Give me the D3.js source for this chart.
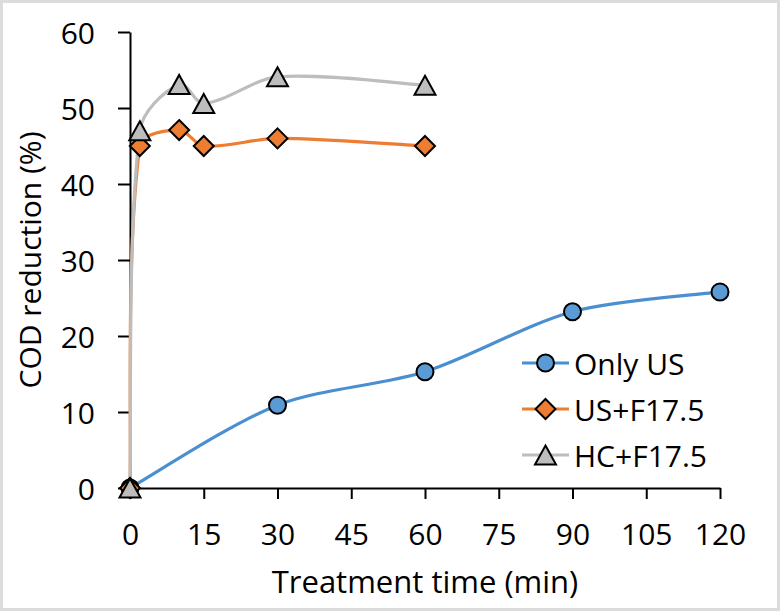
<!DOCTYPE html>
<html>
<head>
<meta charset="utf-8">
<script src="https://cdn.jsdelivr.net/npm/d3@7"></script>
<style>
  html, body { margin: 0; padding: 0; background: #fff; }
  svg { display: block; }
  text { font-family: "Open Sans", Lato, sans-serif; fill: #000; }
</style>
</head>
<body>
<svg id="chart" width="780" height="611"></svg>
<script>
// ---- data ----
const seriesNames = ["Only US", "US+F17.5", "HC+F17.5"];
const timeOnlyUS = [0, 30, 60, 90, 120];
const valOnlyUS = [0, 10.9, 15.3, 23.2, 25.8];
const timeUSF = [0, 2, 10, 15, 30, 60];
const valUSF = [0, 45.0, 47.1, 45.0, 46.0, 45.0];
const timeHCF = [0, 2, 10, 15, 30, 60];
const valHCF = [0, 47.0, 53.1, 50.6, 54.1, 53.0];
const xTicks = [0, 15, 30, 45, 60, 75, 90, 105, 120];
const yTicks = [0, 10, 20, 30, 40, 50, 60];
const xTitle = "Treatment time (min)";
const yTitle = "COD reduction (%)";

const markerFill = ["#5B9BD5", "#ED7D31", "#BDBDBD"];
const lineColors = ["#4A8FD0", "#ED7D31", "#BDBDBD"];
const shapes = ["circle", "diamond", "triangle"];

const series = [
  { name: seriesNames[0], pts: timeOnlyUS.map((t, i) => [t, valOnlyUS[i]]) },
  { name: seriesNames[1], pts: timeUSF.map((t, i) => [t, valUSF[i]]) },
  { name: seriesNames[2], pts: timeHCF.map((t, i) => [t, valHCF[i]]) }
];

const svg = d3.select("#chart");
const W = 780, H = 611;

// frame
svg.append("rect").attr("x", 1.5).attr("y", 1.5).attr("width", W - 3).attr("height", H - 3)
  .attr("fill", "#fff").attr("stroke", "#dcdcdc").attr("stroke-width", 3);

const x = d3.scaleLinear().domain([0, 120]).range([130, 720]);
const y = d3.scaleLinear().domain([0, 60]).range([488, 32]);

const FS = 30;

// axes
const gx = svg.append("g").attr("transform", `translate(0,${y(0)})`)
  .call(d3.axisBottom(x).tickValues(xTicks).tickSize(11).tickSizeOuter(0).tickPadding(0));
gx.select(".domain").attr("stroke", "#000").attr("stroke-width", 2);
gx.selectAll(".tick line").attr("stroke", "#000").attr("stroke-width", 2);
gx.selectAll(".tick text").attr("font-size", FS).attr("y", 0).attr("dy", null)
  .attr("transform", "translate(0,57)").style("font-family", "'Open Sans', sans-serif");

const gy = svg.append("g").attr("transform", `translate(${x(0)},0)`)
  .call(d3.axisLeft(y).tickValues(yTicks).tickSize(12).tickSizeOuter(0).tickPadding(0));
gy.select(".domain").attr("stroke", "#000").attr("stroke-width", 2);
gy.selectAll(".tick line").attr("stroke", "#000").attr("stroke-width", 2);
gy.selectAll(".tick text").attr("font-size", FS).attr("x", -35).attr("dy", null)
  .attr("dominant-baseline", "central")
  .style("font-family", "'Open Sans', sans-serif");

// titles
svg.append("text").attr("x", (x(0) + x(120)) / 2).attr("y", 593)
  .attr("text-anchor", "middle").attr("font-size", FS + 1).text(xTitle);
svg.append("text").attr("transform", `translate(41,${(y(0) + y(60)) / 2}) rotate(-90)`)
  .attr("text-anchor", "middle").attr("font-size", FS).text(yTitle);

// smoothed curve (spreadsheet-style): tangent along neighbours, handle length tied to each segment
function curveSmooth(context) {
  let pts = [];
  return {
    areaStart() {}, areaEnd() {},
    lineStart() { pts = []; },
    point(px, py) { pts.push([+px, +py]); },
    lineEnd() {
      const n = pts.length;
      if (!n) return;
      context.moveTo(pts[0][0], pts[0][1]);
      if (n === 1) return;
      const s = 0.3;
      const dist = (a, b) => Math.hypot(b[0] - a[0], b[1] - a[1]);
      const tang = pts.map((p, i) => {
        const a = pts[Math.max(0, i - 1)], b = pts[Math.min(n - 1, i + 1)];
        const dx = b[0] - a[0], dy = b[1] - a[1], L = Math.hypot(dx, dy) || 1;
        return [dx / L, dy / L];
      });
      for (let i = 0; i < n - 1; i++) {
        const p0 = pts[i], p1 = pts[i + 1], d = dist(p0, p1);
        const s0 = i === 0 ? 1 / 6 : s, s1 = i + 1 === n - 1 ? 1 / 6 : s;
        const c1 = [p0[0] + tang[i][0] * d * s0, p0[1] + tang[i][1] * d * s0];
        const c2 = [p1[0] - tang[i + 1][0] * d * s1, p1[1] - tang[i + 1][1] * d * s1];
        context.bezierCurveTo(c1[0], c1[1], c2[0], c2[1], p1[0], p1[1]);
      }
    }
  };
}

const line = d3.line().x(d => x(d[0])).y(d => y(d[1])).curve(curveSmooth);
series.forEach((s, i) => {
  svg.append("path").attr("d", line(s.pts)).attr("fill", "none")
    .attr("stroke", lineColors[i]).attr("stroke-width", 3.2);
});

function drawMarker(g, shape, cx, cy, fill) {
  if (shape === "circle") {
    g.append("circle").attr("cx", cx).attr("cy", cy).attr("r", 8.5)
      .attr("fill", fill).attr("stroke", "#000").attr("stroke-width", 2);
  } else if (shape === "diamond") {
    const r = 10;
    g.append("path").attr("d", `M${cx},${cy - r}L${cx + r},${cy}L${cx},${cy + r}L${cx - r},${cy}Z`)
      .attr("fill", fill).attr("stroke", "#000").attr("stroke-width", 2);
  } else {
    const hw = 10.5, hh = 9.5;
    g.append("path").attr("d", `M${cx},${cy - hh}L${cx + hw},${cy + hh}L${cx - hw},${cy + hh}Z`)
      .attr("fill", fill).attr("stroke", "#000").attr("stroke-width", 2).attr("stroke-linejoin", "miter");
  }
}

series.forEach((s, i) => {
  const g = svg.append("g");
  s.pts.forEach(p => drawMarker(g, shapes[i], x(p[0]), y(p[1]), markerFill[i]));
});

// legend
const legY = [363, 409, 455];
series.forEach((s, i) => {
  const g = svg.append("g");
  g.append("line").attr("x1", 522).attr("x2", 569).attr("y1", legY[i]).attr("y2", legY[i])
    .attr("stroke", lineColors[i]).attr("stroke-width", 3.2);
  drawMarker(g, shapes[i], 545.5, legY[i], markerFill[i]);
  g.append("text").attr("x", 574).attr("y", legY[i]).attr("dominant-baseline", "central")
    .attr("font-size", FS).text(s.name);
});
</script>
</body>
</html>
